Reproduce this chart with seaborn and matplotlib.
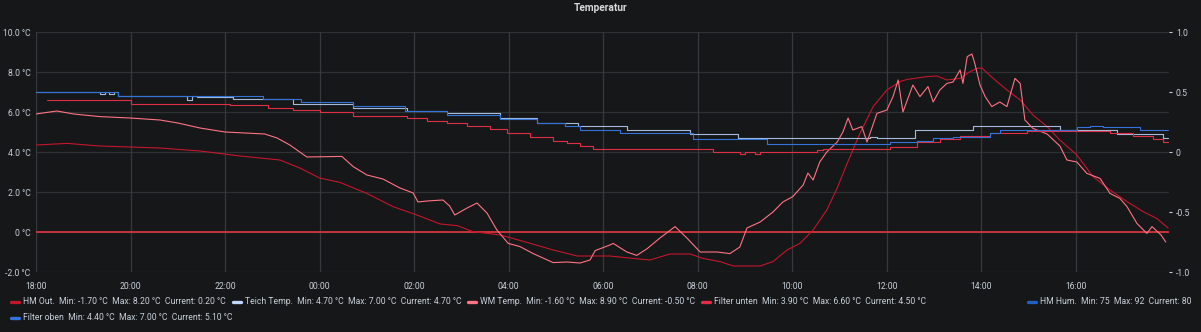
import matplotlib
matplotlib.use("Agg")
import matplotlib.pyplot as plt
from matplotlib.lines import Line2D
import seaborn as sns
import pandas as pd

# ---------------- data ----------------
# time in hours after 18:00
tick_hours = [0, 2, 4, 6, 8, 10, 12, 14, 16, 18, 20, 22]
tick_labels = ["18:00", "20:00", "22:00", "00:00", "02:00", "04:00",
               "06:00", "08:00", "10:00", "12:00", "14:00", "16:00"]
left_ticks = [-2, 0, 2, 4, 6, 8, 10]
left_tick_labels = ["-2.0 °C", "0 °C", "2.0 °C", "4.0 °C", "6.0 °C", "8.0 °C", "10.0 °C"]
right_ticks = [-1.0, -0.5, 0.0, 0.5, 1.0]
right_tick_labels = ["-1.0", "-0.5", "0", "0.5", "1.0"]
threshold = 0.0

hm_out_t = [0, 0.66, 1.35, 2.62, 3.47, 4.32, 5.16, 5.58, 6.0, 6.43, 7.0, 7.55, 8.06,
            8.55, 8.91, 9.24, 9.82, 10.39, 10.94, 11.45, 12.14, 12.63, 12.99, 13.41,
            13.84, 14.11, 14.47, 14.75, 15.32, 15.59, 15.89, 16.16, 16.44, 16.73,
            16.95, 17.16, 17.43, 17.71, 18.0, 18.28, 18.43, 18.85, 19.06, 19.27,
            19.55, 19.76, 19.91, 20.01, 20.25, 20.54, 20.82, 21.09, 21.39, 21.66,
            22.02, 22.36, 22.72, 23.08, 23.42, 23.71, 23.95]
hm_out_v = [4.35, 4.43, 4.3, 4.2, 4.05, 3.8, 3.6, 3.2, 2.7, 2.48, 1.93, 1.27, 0.85,
            0.4, 0.32, 0.02, -0.15, -0.52, -0.9, -1.2, -1.2, -1.32, -1.4, -1.1,
            -1.1, -1.32, -1.48, -1.7, -1.7, -1.48, -0.9, -0.57, 0.1, 1.1,
            2.2, 3.43, 4.93, 6.27, 7.1, 7.52, 7.63, 7.77, 7.8, 7.6,
            7.68, 8.02, 8.18, 8.2, 7.68, 7.1, 6.6, 5.85, 5.27, 4.6,
            3.85, 2.77, 2.1, 1.52, 1.02, 0.68, 0.2]

teich_t = [0, 1.35, 1.45, 1.55, 1.65, 1.73, 3.2, 3.3, 3.4, 4.17, 5.44, 6.71, 7.85,
           8.69, 9.82, 10.6, 11.47, 12.5, 13.84, 14.85, 17.64, 17.79, 18.6, 19.82,
           21.66, 22.87, 23.84, 23.95]
teich_v = [7.0, 6.88, 7.0, 6.88, 7.0, 6.8, 6.62, 6.8, 6.77, 6.63, 6.4, 6.18, 6.05,
           5.93, 5.68, 5.47, 5.32, 5.1, 4.9, 4.7, 4.75, 4.7, 5.1, 5.32,
           5.1, 4.9, 4.7, 4.7]

wm_t = [0, 0.44, 0.8, 1.35, 1.99, 2.62, 3.0, 3.47, 4.0, 4.84, 5.1, 5.37, 5.58, 5.73,
        6.47, 6.71, 7.0, 7.34, 7.7, 7.98, 8.08, 8.27, 8.61, 8.75, 8.86, 9.12, 9.33,
        9.54, 9.75, 9.99, 10.24, 10.51, 10.94, 11.23, 11.51, 11.72, 11.83, 12.14,
        12.21, 12.5, 12.71, 12.93, 13.2, 13.52, 13.77, 14.05, 14.41, 14.68, 14.89,
        15.04, 15.32, 15.59, 15.8, 16.01, 16.23, 16.33, 16.44, 16.58, 16.73, 16.95,
        17.07, 17.18, 17.28, 17.47, 17.58, 17.79, 18.0, 18.13, 18.24, 18.34, 18.55,
        18.7, 18.87, 18.98, 19.12, 19.27, 19.4, 19.55, 19.61, 19.7, 19.8, 19.86,
        19.97, 20.08, 20.22, 20.39, 20.54, 20.71, 20.82, 20.92, 21.09, 21.39, 21.66,
        21.81, 22.02, 22.23, 22.51, 22.72, 22.93, 23.08, 23.29, 23.5, 23.61, 23.8,
        23.9]
wm_v = [5.9, 6.05, 5.9, 5.77, 5.7, 5.6, 5.45, 5.2, 5.0, 4.9, 4.7, 4.35, 4.0, 3.75,
        3.78, 3.27, 2.85, 2.65, 2.2, 1.95, 1.5, 1.55, 1.6, 1.3, 0.85, 1.2, 1.45,
        0.95, 0.1, -0.57, -0.73, -1.07, -1.53, -1.5, -1.55, -1.4, -0.93, -0.65,
        -0.57, -1.0, -1.17, -0.83, -0.3, 0.27, -0.3, -1.0, -1.0, -1.08, -0.75,
        0.2, 0.5, 1.0, 1.5, 1.77, 2.35, 2.95, 2.6, 3.5, 4.0, 4.5,
        5.0, 5.7, 5.1, 5.27, 4.5, 5.93, 6.1, 6.77, 7.6, 6.0, 7.35,
        6.77, 7.27, 6.5, 7.1, 7.43, 7.5, 8.1, 7.43, 8.77, 8.9, 8.43,
        7.35, 6.77, 6.27, 6.5, 6.27, 7.68, 7.43, 5.6, 5.18, 4.9, 4.3,
        3.6, 3.5, 2.93, 2.68, 1.93, 1.68, 1.27, 0.43, -0.07, 0.27, -0.15,
        -0.5]

unten_t = [0.23, 2.0, 4.1, 4.9, 5.44, 6.0, 6.71, 7.85, 8.27, 8.69, 9.12, 9.6, 9.96,
           10.45, 10.94, 11.23, 11.51, 11.78, 14.32, 14.89, 15.0, 15.21, 15.32,
           16.52, 16.65, 18.07, 18.64, 19.12, 19.55, 20.18, 20.96, 22.72, 23.21,
           23.63, 23.84, 23.95]
unten_v = [6.6, 6.4, 6.33, 6.2, 6.1, 6.02, 5.8, 5.68, 5.57, 5.47, 5.3, 5.13, 4.97,
           4.73, 4.57, 4.45, 4.32, 4.15, 4.02, 3.9, 4.02, 3.9, 4.02,
           4.1, 4.17, 4.27, 4.48, 4.67, 4.8, 4.93, 5.03, 4.93, 4.82,
           4.63, 4.5, 4.5]

oben_t = [0, 1.73, 4.8, 5.6, 6.7, 7.8, 8.7, 9.82, 10.6, 11.2, 11.51, 12.35, 13.9,
          15.46, 18.07, 18.64, 18.98, 19.4, 20.18, 20.39, 22.02, 22.3, 22.57, 23.36,
          23.95]
oben_v = [7.0, 6.8, 6.65, 6.5, 6.3, 6.05, 5.85, 5.65, 5.43, 5.3, 5.1, 4.93, 4.63,
          4.42, 4.48, 4.57, 4.68, 4.77, 4.93, 5.1, 5.27, 5.32, 5.23, 5.1,
          5.1]

legend_names = ["HM Out.", "Teich Temp.", "WM Temp.", "Filter unten", "HM Hum.", "Filter oben"]
legend_stats = ["Min: -1.70 °C  Max: 8.20 °C  Current: 0.20 °C",
                "Min: 4.70 °C  Max: 7.00 °C  Current: 4.70 °C",
                "Min: -1.60 °C  Max: 8.90 °C  Current: -0.50 °C",
                "Min: 3.90 °C  Max: 6.60 °C  Current: 4.50 °C",
                "Min: 75  Max: 92  Current: 80",
                "Min: 4.40 °C  Max: 7.00 °C  Current: 5.10 °C"]

# ---------------- style ----------------
BG = "#161719"
TXT = "#c7d0d9"
colors = {"HM Out.": "#C4162A", "Teich Temp.": "#C0D8FF", "WM Temp.": "#FF7383",
          "Filter unten": "#E02F44", "HM Hum.": "#1F60C4", "Filter oben": "#3274D9"}

sns.set_theme(style="dark")
plt.rcParams["font.family"] = ["Roboto", "DejaVu Sans"]

fig = plt.figure(figsize=(12.01, 3.32), dpi=100, facecolor=BG)
W, H = 1201, 332
L, R, T, B = 36, 1169, 32, 272
ax = fig.add_axes([L / W, 1 - B / H, (R - L) / W, (B - T) / H])
ax.set_facecolor(BG)

# grid
for yv in left_ticks:
    ax.axhline(yv, color="#2e3134", lw=0.9, zorder=0)
for xv in tick_hours:
    ax.axvline(xv, color="#36393d", lw=0.9, zorder=0)

ax.axhline(threshold, color="#d2353a", lw=1.3, zorder=1)

lw = 0.8
sns.lineplot(x=hm_out_t, y=hm_out_v, ax=ax, color=colors["HM Out."], lw=lw, zorder=2)
sns.lineplot(x=teich_t, y=teich_v, ax=ax, color=colors["Teich Temp."], lw=lw,
             drawstyle="steps-post", zorder=3, alpha=0.85)
sns.lineplot(x=wm_t, y=wm_v, ax=ax, color=colors["WM Temp."], lw=lw, zorder=4)
sns.lineplot(x=unten_t, y=unten_v, ax=ax, color=colors["Filter unten"], lw=lw,
             drawstyle="steps-post", zorder=5)
sns.lineplot(x=oben_t, y=oben_v, ax=ax, color=colors["Filter oben"], lw=lw,
             drawstyle="steps-post", zorder=6)

ax.set_xlim(0, (R - L) / 47.27)
ax.set_ylim(-2, 10)
ax.set_xticks(tick_hours)
ax.set_xticklabels(tick_labels)
ax.set_yticks(left_ticks)
ax.set_yticklabels(left_tick_labels)
ax.tick_params(axis="both", length=0, labelsize=6.2, colors=TXT)
ax.tick_params(axis="x", pad=7)
ax.tick_params(axis="y", pad=4)
for s in ax.spines.values():
    s.set_visible(False)
ax.set_xlabel("")
ax.set_ylabel("")

ax2 = ax.twinx()
ax2.set_ylim(-1, 1)
ax2.set_yticks(right_ticks)
ax2.set_yticklabels(right_tick_labels)
ax2.tick_params(axis="y", length=2, width=0.8, color="#55595e", labelsize=6.2,
                colors=TXT, pad=3)
ax2.tick_params(axis="y", colors=TXT)
for s in ax2.spines.values():
    s.set_visible(False)
ax2.grid(False)
ax.grid(False)

fig.text(0.5, 1 - 8 / H, "Temperatur", ha="center", va="center", fontsize=7.3,
         fontweight="bold", color="#d8d9da")

# legend (manual, Grafana style)
entries = [(0, 11, 302), (1, 233, 302), (2, 468, 302), (3, 702, 302), (4, 1028, 302),
           (5, 11, 318)]
for idx, sx, sy in entries:
    name = legend_names[idx]
    fy = 1 - sy / H
    fig.add_artist(Line2D([sx / W, (sx + 8) / W], [fy, fy], color=colors[name],
                          lw=2.4, solid_capstyle="round", transform=fig.transFigure))
    fig.text((sx + 12) / W, fy, name + "  " + legend_stats[idx], ha="left",
             va="center", fontsize=6.2, color=TXT)

fig.savefig("out.png", dpi=100, facecolor=BG)
